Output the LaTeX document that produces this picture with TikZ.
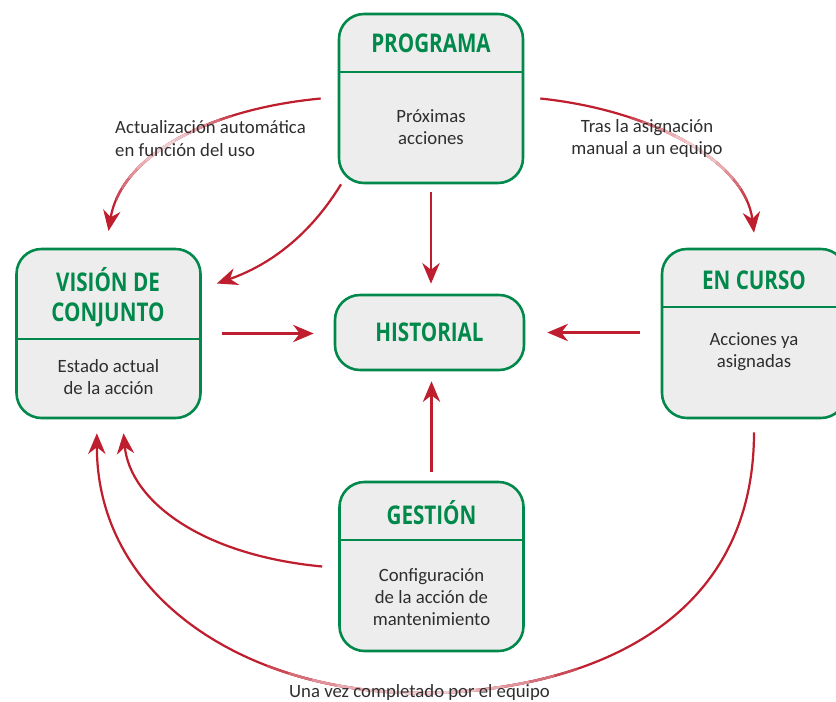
\documentclass[tikz,border=0pt]{standalone}
\usepackage{fontspec}
\setmainfont{Carlito}
\newfontfamily\headfont[FakeStretch=0.8]{Open Sans}
\usetikzlibrary{arrows.meta}

\definecolor{boxgreen}{HTML}{00894A}
\definecolor{boxfill}{HTML}{EDEDED}
\definecolor{flowred}{HTML}{BE1E2D}
\definecolor{textgray}{HTML}{2E2E2E}
\tikzset{paler/.style={->,draw=flowred!#1!white,line width=2.1pt}}

\begin{document}
\begin{tikzpicture}[x=0.03cm,y=-0.03cm,>={Stealth[length=0.62cm,width=0.52cm]},
  box/.style={draw=boxgreen,line width=2.2pt,fill=boxfill,rounded corners=0.75cm,
    minimum width=5.52cm,minimum height=5.07cm,inner sep=0pt},
  sepline/.style={draw=boxgreen,line width=2.2pt},
  head/.style={font=\headfont\bfseries\fontsize{22}{25.5}\selectfont,text=boxgreen,align=center,inner sep=0pt},
  body/.style={font=\fontsize{16}{18.7}\selectfont,text=textgray,align=center,inner sep=0pt},
  note/.style={font=\fontsize{16}{19.5}\selectfont,text=textgray,inner sep=0pt},
  flow/.style={->,draw=flowred,line width=1.9pt}]
\useasboundingbox (0,0) rectangle (836,702);

% boxes
\node[box] (prog) at (431,98.5) {};
\node[box] (vision) at (108.5,333.5) {};
\node[box] (curso) at (754,333.5) {};
\node[box] (gest) at (431.5,566.5) {};
\node[box,minimum width=5.67cm,minimum height=2.25cm] (hist) at (429.5,332.5) {};
\draw[sepline] (prog.west |- 0,72) -- (prog.east |- 0,72);
\draw[sepline] (vision.west |- 0,339) -- (vision.east |- 0,339);
\draw[sepline] (curso.west |- 0,307) -- (curso.east |- 0,307);
\draw[sepline] (gest.west |- 0,540) -- (gest.east |- 0,540);

\node[head] (progt) at (431,43) {PROGRAMA};
\node[body] (progb) at (431,127) {Próximas\\acciones};
\node[head] (visiont) at (108,297) {VISIÓN DE\\CONJUNTO};
\node[body] (visionb) at (108.5,377) {Estado actual\\de la acción};
\node[head] (cursot) at (754,280) {EN CURSO};
\node[body] (cursob) at (754,352) {Acciones ya\\asignadas};
\node[head] (gestt) at (431.5,513) {GESTIÓN};
\node[body] (gestb) at (431.5,597) {Configuración\\de la acción de\\mantenimiento};
\node[head] (histt) at (429.5,332) {HISTORIAL};

% straight arrows into the history
\draw[flow,shorten <=0.22cm,shorten >=0.3cm] (prog.south) -- (prog.south |- hist.north);
\draw[flow,shorten <=0.27cm,shorten >=0.3cm] (gest.north) -- (gest.north |- hist.south);
\draw[flow,shorten <=0.6cm,shorten >=0.6cm] (vision.east) -- (vision.east -| hist.west);
\draw[flow,shorten <=0.63cm,shorten >=0.66cm] (curso.west |- hist.east) -- (hist.east);

% curved arrows
\draw[flow] ([xshift=-0.51cm]prog.west) .. controls (200,110) and (120,160) .. ([yshift=0.5cm]vision.north);
\draw[flow] ([xshift=0.48cm]prog.east) .. controls (650,110) and (745,160) .. ([yshift=0.45cm]curso.north);
\draw[flow] ([xshift=0.1cm]prog.south west) .. controls (310,235) and (270,265) .. ([shift={(0.45cm,1.5cm)}]vision.east);
\draw[flow] ([xshift=-0.48cm]gest.west) .. controls (200,555) and (130,500) .. ([shift={(0.45cm,-0.42cm)}]vision.south);
\draw[flow] ([yshift=-0.39cm]curso.south) .. controls (754,640) and (560,693) .. (420,693)
  .. controls (250,693) and (97,600) .. ([shift={(-0.35cm,-0.42cm)}]vision.south);

% pale middle parts of the long arcs
\foreach \r/\c in {6/82,5/64,4/48,3/36,2/27,1/21}{
  \begin{scope}
    \clip (168,150) ellipse [x radius=\r*0.36cm,y radius=\r*0.36cm];
    \draw[paler=\c] ([xshift=-0.51cm]prog.west) .. controls (200,110) and (120,160) .. ([yshift=0.5cm]vision.north);
  \end{scope}
  \begin{scope}
    \clip (695,150) ellipse [x radius=\r*0.36cm,y radius=\r*0.36cm];
    \draw[paler=\c] ([xshift=0.48cm]prog.east) .. controls (650,110) and (745,160) .. ([yshift=0.45cm]curso.north);
  \end{scope}
  \begin{scope}
    \clip (420,692) ellipse [x radius=\r*0.85cm,y radius=\r*0.3cm];
    \draw[paler=\c] ([yshift=-0.39cm]curso.south) .. controls (754,640) and (560,693) .. (420,693)
      .. controls (250,693) and (97,600) .. ([shift={(-0.35cm,-0.42cm)}]vision.south);
  \end{scope}
}

% labels
\node[note,align=left] (autolbl) at (210.5,138.5) {Actualización automática\\en función del uso};
\node[note,align=center] (manuallbl) at (647,138.5) {Tras la asignación\\manual a un equipo};
\node[note] (donelbl) at (419.5,692) {Una vez completado por el equipo};
\end{tikzpicture}
\end{document}
